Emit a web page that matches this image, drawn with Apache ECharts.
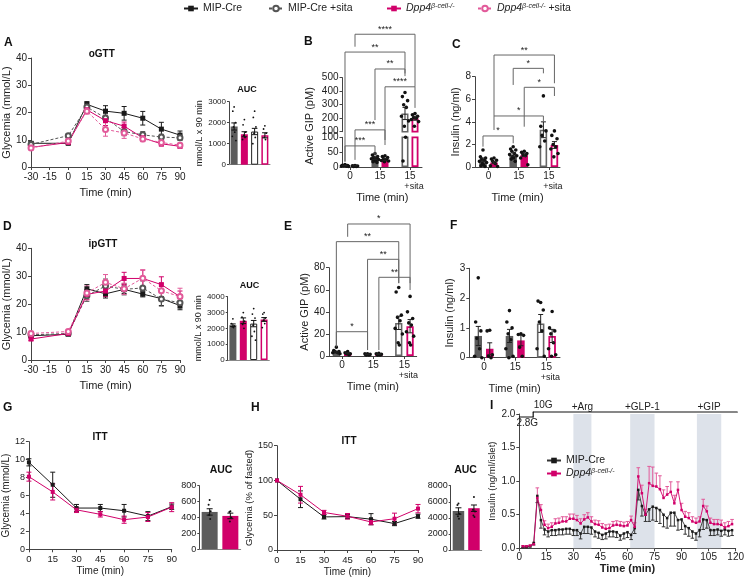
<!DOCTYPE html>
<html><head><meta charset="utf-8">
<script src="https://cdn.jsdelivr.net/npm/echarts@6.0.0/dist/echarts.min.js"></script>
<style>html,body{margin:0;padding:0;background:#fff;}#chart{width:747px;height:580px;}</style>
</head><body><div id="chart"></div>
<script>
// ================= DATA =================
const gttTimes = [-30, 0, 15, 30, 45, 60, 75, 90];
const ogttMip        = [8.7, 8.7, 23.0, 20.5, 19.7, 17.9, 13.9, 11.7];
const ogttMipErr     = [0.6, 0.5, 1.0, 2.0, 2.5, 2.5, 2.5, 1.5];
const ogttMipSita    = [8.3, 11.5, 22.0, 18.0, 13.0, 11.8, 11.0, 10.7];
const ogttMipSitaErr = [0.8, 0.8, 1.5, 1.5, 1.5, 1.2, 1.0, 1.0];
const ogttDpp        = [7.2, 9.0, 21.0, 17.0, 15.0, 10.7, 8.5, 7.6];
const ogttDppErr     = [0.6, 0.5, 1.2, 1.8, 1.5, 1.0, 0.8, 0.6];
const ogttDppSita    = [7.0, 9.5, 20.5, 13.8, 12.5, 10.3, 9.0, 8.0];
const ogttDppSitaErr = [0.6, 0.6, 1.0, 2.5, 2.0, 1.0, 1.0, 0.8];

const aucGroups = ['MIP-Cre', 'Dpp4', 'MIP-Cre +sita', 'Dpp4 +sita'];
const ogttAuc     = [1820, 1450, 1580, 1400];
const ogttAucErr  = [170, 120, 150, 120];
const ogttAucDots = [[2750, 2550, 2000, 1800, 1550, 1350, 1150],
                     [2150, 1900, 1550, 1400, 1300, 1200],
                     [2550, 2250, 1800, 1500, 1300, 1000],
                     [1850, 1700, 1500, 1300, 1200]];

const ipgttMip        = [8.7, 9.2, 25.5, 23.7, 25.3, 23.6, 22.0, 19.5];
const ipgttMipErr     = [0.8, 0.5, 1.5, 1.5, 1.5, 1.0, 2.5, 1.5];
const ipgttMipSita    = [9.0, 9.5, 23.0, 26.5, 25.3, 25.8, 21.8, 20.5];
const ipgttMipSitaErr = [0.8, 0.6, 2.0, 2.5, 2.0, 2.5, 2.5, 2.0];
const ipgttDpp        = [7.5, 9.5, 23.5, 24.7, 29.2, 29.2, 27.0, 22.7];
const ipgttDppErr     = [0.5, 0.6, 1.8, 2.0, 2.2, 3.0, 2.8, 2.0];
const ipgttDppSita    = [9.5, 10.2, 24.0, 27.8, 25.5, 29.3, 24.8, 22.7];
const ipgttDppSitaErr = [0.8, 0.8, 2.5, 2.8, 2.0, 3.0, 2.5, 3.0];
const ipgttAuc     = [2200, 2480, 2300, 2560];
const ipgttAucErr  = [80, 180, 200, 120];
const ipgttAucDots = [[2600, 2300, 2150, 2100, 2050],
                      [3000, 2700, 2450, 2250, 2000],
                      [3250, 2900, 2650, 2200, 1800, 1500, 1250],
                      [3000, 2900, 2650, 2500, 2300, 2050]];

const timeGroups = ['0', '15', '15 +sita'];
// B: active GIP after oGTT
const gipOMip     = [5, 30, 235];
const gipOMipErr  = [1, 4, 45];
const gipODpp     = [4, 25, 200];
const gipODppErr  = [0.5, 3, 15];
const gipOMipDots = [[8, 6, 5, 4, 3, 3, 2], [45, 40, 35, 32, 30, 28, 25, 22, 20, 18, 15], [390, 360, 330, 300, 280, 215, 180, 140, 100, 20]];
const gipODppDots = [[5, 4, 3, 2, 2], [38, 35, 32, 28, 25, 22, 20, 18], [235, 225, 215, 205, 200, 190, 175, 140]];
const gipOBrackets = [[0, 1, 2, 1, 447, 405, 270], [0, -1, 2, -1, 387, 18, 315], [1, -1, 2, -1, 330, 158, 306],
                      [1, 1, 2, 1, 270, 91, 199], [0, 1, 1, 1, 125, 24, 74], [0, -1, 1, -1, 71, 18, 40]];
const gipOBracketLabels = ['****', '**', '**', '****', '***', '***'];

// C: insulin after oGTT
const insOMip     = [0.65, 1.1, 3.3];
const insOMipErr  = [0.15, 0.15, 0.7];
const insODpp     = [0.4, 1.05, 1.95];
const insODppErr  = [0.1, 0.12, 0.3];
const insOMipDots = [[1.5, 0.9, 0.8, 0.7, 0.6, 0.5, 0.4, 0.3, 0.2, 0.1, 0.05], [1.8, 1.6, 1.5, 1.4, 1.2, 1.1, 1.0, 0.9, 0.8, 0.7, 0.5], [6.3, 3.6, 3.2, 2.8, 2.3, 1.8]];
const insODppDots = [[0.8, 0.7, 0.6, 0.5, 0.3, 0.1, 0.05], [1.4, 1.3, 1.2, 1.1, 1.0, 0.8, 0.2], [3.2, 2.8, 2.5, 2.0, 1.8, 1.6, 1.2, 0.9]];
const insOBrackets = [[0, 1, 2, 1, 9.92, 4.52, 7.42], [1, -1, 2, -1, 8.74, 7.27, 8.30], [1, 1, 2, 1, 7.06, 3.57, 6.29],
                      [0, 1, 2, -1, 4.52, 3.28, 4.01], [0, -1, 1, -1, 2.75, 1.80, 2.10]];
const insOBracketLabels = ['**', '*', '*', '*', '*'];

// E: active GIP after ipGTT
const gipIMip     = [3.5, 1.5, 30];
const gipIMipErr  = [0.8, 0.3, 6];
const gipIDpp     = [2.5, 1.8, 27];
const gipIDppErr  = [0.5, 0.3, 6];
const gipIMipDots = [[8, 5, 4, 4, 3, 3, 2], [2, 2, 1.5, 1, 1], [62, 58, 37, 35, 32, 25, 20, 12, 10]];
const gipIDppDots = [[4, 3, 2, 2, 1], [2.5, 2, 1.5, 1, 1], [54, 40, 34, 30, 28, 22, 18, 12, 10]];
const gipIBrackets = [[0, 1, 2, 1, 119.6, 108, 66], [0, -1, 2, -1, 103.6, 8.4, 66], [1, -1, 2, -1, 87.6, 5.4, 66],
                      [1, 1, 2, 1, 71.3, 5.4, 59.8], [0, -1, 1, -1, 22, 10, 5.4]];
const gipIBracketLabels = ['*', '**', '**', '**', '*'];

// F: insulin after ipGTT
const insIMip     = [0.73, 0.73, 1.15];
const insIMipErr  = [0.32, 0.22, 0.3];
const insIDpp     = [0.3, 0.58, 0.73];
const insIDppErr  = [0.2, 0.18, 0.22];
const insIMipDots = [[2.68, 1.2, 0.9, 0.65, 0.3, 0.05, 0.0], [1.58, 1.2, 1.0, 0.8, 0.6, 0.3, 0.05, 0.0], [1.85, 1.9, 1.6, 1.2, 0.9, 0.3, 0.05]];
const insIDppDots = [[0.92, 0.9, 0.1, 0.05, 0.0], [0.8, 0.78, 0.75, 0.35, 0.05], [1.55, 1.0, 0.9, 0.8, 0.5, 0.3, 0.1, 0.05]];

// G: ITT (mmol/L)
const ittTimes  = [0, 15, 30, 45, 60, 75, 90];
const ittMip    = [9.7, 7.2, 4.6, 4.6, 4.3, 3.7, 4.75];
const ittMipErr = [0.4, 1.4, 0.4, 0.4, 0.7, 0.5, 0.3];
const ittDpp    = [8.1, 6.4, 4.4, 3.9, 3.3, 3.6, 4.7];
const ittDppErr = [0.5, 0.9, 0.3, 0.3, 0.4, 0.5, 0.5];
const ittAucGroups = ['MIP-Cre', 'Dpp4'];
const ittAuc     = [470, 420];
const ittAucErr  = [40, 35];
const ittAucDots = [[620, 560, 480, 430, 380], [480, 470, 400, 350]];

// H: ITT (% of fasted)
const ittPctMip    = [100, 73, 47.6, 48, 44.3, 38, 48.6];
const ittPctMipErr = [0, 12, 3, 3, 8, 3, 3];
const ittPctDpp    = [100, 79.5, 54, 48.5, 40.3, 45, 59.5];
const ittPctDppErr = [0, 12, 3, 4, 4, 8, 6];
const ittPctAuc     = [4850, 5200];
const ittPctAucErr  = [400, 400];
const ittPctAucDots = [[5800, 5600, 4500, 4200, 3900], [6600, 5000, 4800, 4300, 4100]];

// I: perifusion
const periTimes = [2, 4, 6, 8, 10, 12, 14, 16, 18, 20,
                   22, 24, 26, 28, 30, 32, 34, 36, 38, 40,
                   42, 44, 46, 48, 50, 52, 54, 56, 58, 60,
                   62, 64, 66, 68, 70, 72, 74, 76, 78, 80,
                   82, 84, 86, 88, 90, 92, 94, 96, 98, 100,
                   102, 104, 106, 108, 110, 112, 114, 116, 118];
const periMip = [0.02, 0.02, 0.03, 0.08, 0.78, 0.42, 0.28, 0.25, 0.27, 0.27,
                 0.28, 0.28, 0.29, 0.29, 0.27, 0.27, 0.22, 0.32, 0.32, 0.31,
                 0.25, 0.23, 0.20, 0.22, 0.25, 0.25, 0.24, 0.19, 0.22, 0.24,
                 0.20, 0.30, 0.87, 0.63, 0.50, 0.58, 0.62, 0.60, 0.57, 0.50,
                 0.45, 0.53, 0.53, 0.42, 0.43, 0.33, 0.30, 0.25, 0.22, 0.27,
                 0.43, 0.42, 0.27, 0.27, 0.28, 0.26, 0.28, 0.26, 0.27];
const periMipErr = [0.01, 0.01, 0.01, 0.03, 0.10, 0.12, 0.08, 0.08, 0.08, 0.08,
                    0.08, 0.08, 0.08, 0.08, 0.08, 0.08, 0.08, 0.10, 0.10, 0.10,
                    0.08, 0.08, 0.07, 0.08, 0.08, 0.08, 0.08, 0.07, 0.08, 0.08,
                    0.07, 0.08, 0.15, 0.15, 0.10, 0.18, 0.20, 0.20, 0.20, 0.18,
                    0.15, 0.20, 0.20, 0.15, 0.15, 0.12, 0.12, 0.10, 0.10, 0.10,
                    0.15, 0.12, 0.08, 0.08, 0.08, 0.08, 0.08, 0.08, 0.08];
const periDpp = [0.03, 0.03, 0.04, 0.06, 0.75, 0.57, 0.35, 0.30, 0.32, 0.37,
                 0.38, 0.40, 0.40, 0.44, 0.44, 0.42, 0.37, 0.43, 0.46, 0.40,
                 0.36, 0.35, 0.31, 0.29, 0.30, 0.34, 0.35, 0.34, 0.33, 0.34,
                 0.42, 0.32, 1.07, 0.82, 0.50, 0.97, 0.93, 0.92, 0.88, 0.75,
                 0.80, 0.84, 0.67, 0.87, 0.57, 0.47, 0.45, 0.40, 0.38, 0.40,
                 0.63, 0.55, 0.38, 0.36, 0.36, 0.35, 0.31, 0.33, 0.36];
const periDppErr = [0.01, 0.01, 0.01, 0.02, 0.15, 0.08, 0.06, 0.06, 0.06, 0.07,
                    0.07, 0.07, 0.07, 0.07, 0.07, 0.07, 0.07, 0.07, 0.07, 0.07,
                    0.06, 0.06, 0.06, 0.06, 0.06, 0.06, 0.06, 0.06, 0.06, 0.06,
                    0.06, 0.06, 0.13, 0.12, 0.08, 0.25, 0.28, 0.20, 0.20, 0.12,
                    0.12, 0.15, 0.12, 0.12, 0.10, 0.08, 0.08, 0.07, 0.07, 0.07,
                    0.10, 0.08, 0.07, 0.07, 0.07, 0.07, 0.07, 0.07, 0.07];
const periPhases = [[30, 40, '+Arg'], [61.5, 75, '+GLP-1'], [98.5, 112, '+GIP']];
const protocolTimes  = [0, 7.7, 7.7, 121];
const protocolLevels = [1.955, 1.955, 2.03, 2.03];
const protocolLabels = ['2.8G', '', '10G', ''];

// ================= STYLE / HELPERS =================
const FONT = '"Liberation Sans", Arial, Helvetica, sans-serif';
const INK = '#222';
const AX = '#444';
const C_MIP = '#1a1a1a', C_MIPS = '#555555', C_DPP = '#d1006a', C_DPPS = '#e25a9a', C_GREY = '#5c5c5c';

const grids = [], xAxes = [], yAxes = [], series = [], graphics = [];

function merge(a, b) {
  const r = Object.assign({}, a);
  for (const k in b) {
    if (b[k] && typeof b[k] === 'object' && !Array.isArray(b[k]) && a[k] && typeof a[k] === 'object') r[k] = Object.assign({}, a[k], b[k]);
    else r[k] = b[k];
  }
  return r;
}
function addGrid(l, t, w, h) { grids.push({ left: l, top: t, width: w, height: h }); return grids.length - 1; }
function addX(g, o) { xAxes.push(Object.assign({ gridIndex: g }, o)); return xAxes.length - 1; }
function addY(g, o) { yAxes.push(Object.assign({ gridIndex: g }, o)); return yAxes.length - 1; }
function axisCommon(fs) {
  return {
    axisLine: { show: true, onZero: false, lineStyle: { color: AX, width: 1 } },
    axisTick: { show: true, length: 3, lineStyle: { color: AX, width: 1 } },
    axisLabel: { fontFamily: FONT, fontSize: fs, color: INK, margin: 4, formatter: v => String(v) },
    splitLine: { show: false },
    nameTextStyle: { fontFamily: FONT, color: INK }
  };
}
function valAxis(min, max, interval, fs, name, gap, nfs, extra) {
  return merge(merge(axisCommon(fs), { type: 'value', min, max, interval, name: name || '', nameLocation: 'middle', nameGap: gap || 0, nameTextStyle: { fontSize: nfs || 11 } }), extra || {});
}
const GROUP_RICH = { a: { fontFamily: FONT, fontSize: 10, color: INK, lineHeight: 11 }, b: { fontFamily: FONT, fontSize: 9, color: INK, lineHeight: 10, padding: [0, 0, 0, 8] } };
function groupLabel(v) {
  const i = Math.round(v);
  const parts = timeGroups[i].split(' ');
  return parts.length > 1 ? '{a|' + parts[0] + '}\n{b|' + parts[1] + '}' : '{a|' + parts[0] + '}';
}
function barXAxis(min, max, gap) {
  return merge(axisCommon(10), {
    type: 'value', min, max,
    axisTick: { customValues: [0, 1, 2], length: 3 },
    axisLabel: { customValues: [0, 1, 2], formatter: groupLabel, rich: GROUP_RICH, margin: 4 },
    name: 'Time (min)', nameLocation: 'middle', nameGap: gap, nameTextStyle: { fontSize: 11 }
  });
}
function lineSeries(name, xi, yi, xs, ys, color, symbol, size, dashed) {
  return {
    type: 'line', name, xAxisIndex: xi, yAxisIndex: yi, z: 3, silent: true,
    data: xs.map((x, i) => [x, ys[i]]), symbol, symbolSize: size, showAllSymbol: true,
    lineStyle: { color, width: 1, type: dashed ? [3, 2] : 'solid' },
    itemStyle: { color, borderColor: color, borderWidth: symbol === 'emptyCircle' ? 1 : 0 },
    emphasis: { disabled: true }
  };
}
function errSeries(xi, yi, xs, means, errs, color, dir, cap) {
  return {
    type: 'custom', xAxisIndex: xi, yAxisIndex: yi, silent: true, z: 2, clip: false,
    data: xs.map((x, i) => [x, means[i], errs[i]]),
    renderItem(p, api) {
      const x = api.value(0), m = api.value(1), e = api.value(2);
      if (!e) return null;
      const top = dir === 'down' ? m : m + e;
      const bot = dir === 'up' ? m : m - e;
      const pt = api.coord([x, top]), pb = api.coord([x, bot]);
      const st = { stroke: color, lineWidth: 1 };
      const ch = [{ type: 'line', shape: { x1: pt[0], y1: pt[1], x2: pb[0], y2: pb[1] }, style: st }];
      if (dir !== 'down') ch.push({ type: 'line', shape: { x1: pt[0] - cap, y1: pt[1], x2: pt[0] + cap, y2: pt[1] }, style: st });
      if (dir !== 'up') ch.push({ type: 'line', shape: { x1: pb[0] - cap, y1: pb[1], x2: pb[0] + cap, y2: pb[1] }, style: st });
      return { type: 'group', children: ch };
    }
  };
}
const JIT = [0, -2.6, 2.6, -1.3, 1.3, -3.6, 3.6, -0.6, 0.6, -2, 2, -3.1, 3.1];
function dotErrSeries(xi, yi, groups, means, errs, dots, off, o) {
  const lo = o.lo === undefined ? -Infinity : o.lo, hi = o.hi === undefined ? Infinity : o.hi;
  return {
    type: 'custom', xAxisIndex: xi, yAxisIndex: yi, silent: true, z: 5, clip: false,
    data: groups.map((g, i) => [g, means[i], errs[i]]),
    renderItem(p, api) {
      const i = p.dataIndex, g = api.value(0), m = api.value(1), e = api.value(2);
      const cx = api.coord([g, m])[0] + off;
      const ch = [];
      const inR = v => v >= lo && v <= hi;
      (dots[i] || []).forEach((v, k) => {
        if (!inR(v)) return;
        const y = api.coord([g, v])[1];
        ch.push({ type: 'circle', shape: { cx: cx + JIT[k % JIT.length] * o.jit, cy: y, r: o.r }, style: { fill: o.dotColor || '#111' } });
      });
      if (inR(m)) {
        const yt = api.coord([g, m + e])[1], yb = api.coord([g, m - e])[1];
        const st = { stroke: o.errColor || '#222', lineWidth: 1 };
        ch.push({ type: 'line', shape: { x1: cx, y1: yt, x2: cx, y2: yb }, style: st });
        ch.push({ type: 'line', shape: { x1: cx - o.cap, y1: yt, x2: cx + o.cap, y2: yt }, style: st });
        ch.push({ type: 'line', shape: { x1: cx - o.cap, y1: yb, x2: cx + o.cap, y2: yb }, style: st });
      }
      return { type: 'group', children: ch };
    }
  };
}
function bracketSeries(xi, yi, brackets, labels, off) {
  return {
    type: 'custom', xAxisIndex: xi, yAxisIndex: yi, silent: true, z: 6, clip: false,
    data: brackets,
    renderItem(p, api) {
      const v = [0, 1, 2, 3, 4, 5, 6].map(k => api.value(k));
      const x1 = api.coord([v[0], v[4]])[0] + v[1] * off;
      const x2 = api.coord([v[2], v[4]])[0] + v[3] * off;
      const yT = api.coord([v[0], v[4]])[1];
      const y1 = api.coord([v[0], v[5]])[1];
      const y2 = api.coord([v[2], v[6]])[1];
      return {
        type: 'group', children: [
          { type: 'polyline', shape: { points: [[x1, y1], [x1, yT], [x2, yT], [x2, y2]] }, style: { stroke: '#666', lineWidth: 1, fill: null } },
          { type: 'text', x: (x1 + x2) / 2, y: yT - 0.5, style: { text: labels[p.dataIndex], fontSize: 9, fontFamily: FONT, fill: INK, align: 'center', verticalAlign: 'bottom' } }
        ]
      };
    }
  };
}
const AUC4_STYLES = [{ color: C_GREY }, { color: C_DPP }, { color: '#fff', borderColor: '#222', borderWidth: 1 }, { color: '#fff', borderColor: C_DPP, borderWidth: 1.5 }];
function aucPanel(l, t, w, h, groups, vals, errs, dots, ymax, yint, fs, name, gap, bw, styles, dotR, jit) {
  const g = addGrid(l, t, w, h);
  const xi = addX(g, merge(axisCommon(fs), { type: 'category', data: groups, axisTick: { show: false }, axisLabel: { show: false }, axisLine: { show: true, onZero: false, lineStyle: { color: '#888' } } }));
  const yi = addY(g, valAxis(0, ymax, yint, fs, name, gap, 9, { axisTick: { length: 2 }, axisLabel: { margin: 3 } }));
  series.push({ type: 'bar', xAxisIndex: xi, yAxisIndex: yi, barWidth: bw, silent: true, z: 2, data: vals.map((v, i) => ({ value: v, itemStyle: styles[i] })) });
  series.push(dotErrSeries(xi, yi, groups.map((_, i) => i), vals, errs, dots, 0, { r: dotR, jit, cap: Math.min(3, bw / 2.5), dotColor: '#111', errColor: '#111' }));
}
function barSeries(xi, yi, vals, kind, bw, gap) {
  return {
    type: 'bar', xAxisIndex: xi, yAxisIndex: yi, barWidth: bw, barGap: (gap * 100) + '%', silent: true, z: 2,
    data: vals.map((v, i) => ({
      value: [i, v],
      itemStyle: i === 2 ? (kind === 'mip' ? { color: '#fff', borderColor: '#666', borderWidth: 1.6 } : { color: '#fff', borderColor: C_DPP, borderWidth: 1.8 })
                         : { color: kind === 'mip' ? C_GREY : C_DPP }
    }))
  };
}
function barPanel(c) {
  const g = addGrid(c.left, c.top, c.width, c.height);
  const xi = addX(g, barXAxis(c.xmin, c.xmax, c.nameGap));
  const yi = addY(g, valAxis(0, c.ymax, c.yint, 10, c.yname, c.ygap, 11));
  const off = c.bw * (1 + c.gap) / 2;
  series.push(barSeries(xi, yi, c.mip, 'mip', c.bw, c.gap));
  series.push(barSeries(xi, yi, c.dpp, 'dpp', c.bw, c.gap));
  const dOpt = { r: 1.8, jit: 1, cap: 2.5 };
  series.push(dotErrSeries(xi, yi, [0, 1, 2], c.mip, c.mipErr, c.mipDots, -off, dOpt));
  series.push(dotErrSeries(xi, yi, [0, 1, 2], c.dpp, c.dppErr, c.dppDots, off, dOpt));
  if (c.brackets) series.push(bracketSeries(xi, yi, c.brackets, c.bracketLabels, off));
}

// ================= A: oGTT =================
function gttPanel(l, t, w, h, sets, nameGapY) {
  const g = addGrid(l, t, w, h);
  const xi = addX(g, valAxis(-30, 90, 15, 10, 'Time (min)', 20, 11, { axisLabel: { margin: 5 } }));
  const yi = addY(g, valAxis(0, 40, 10, 10, 'Glycemia (mmol/L)', nameGapY, 11));
  sets.forEach(s => {
    series.push(lineSeries(s[0], xi, yi, gttTimes, s[1], s[3], s[4], s[5], s[6]));
    series.push(errSeries(xi, yi, gttTimes, s[1], s[2], s[3], 'both', 2.5));
  });
}
gttPanel(28, 58, 152, 109, [
  ['MIP-Cre', ogttMip, ogttMipErr, C_MIP, 'rect', 5, false],
  ['MIP-Cre +sita', ogttMipSita, ogttMipSitaErr, C_MIPS, 'emptyCircle', 5, true],
  ['Dpp4', ogttDpp, ogttDppErr, C_DPP, 'rect', 5, false],
  ['Dpp4 +sita', ogttDppSita, ogttDppSitaErr, C_DPPS, 'emptyCircle', 5, true]
], 13);
aucPanel(229, 101.7, 41, 63, aucGroups, ogttAuc, ogttAucErr, ogttAucDots, 3000, 1000, 8, 'mmol/L x 90 min', 24, 7, AUC4_STYLES, 0.9, 0.5);

// ================= B: active GIP (broken axis) =================
(function () {
  const bw = 7, gap = 0.43, off = bw * (1 + gap) / 2;
  const gh = addGrid(342.5, 77.7, 79.5, 54);
  const gl = addGrid(342.5, 137.3, 79.5, 29.7);
  const xh = addX(gh, { type: 'value', min: -0.25, max: 2.4, show: false });
  const yh = addY(gh, valAxis(100, 500, 100, 10));
  const xl = addX(gl, barXAxis(-0.25, 2.4, 22));
  const yl = addY(gl, valAxis(0, 100, 50, 10));
  [[xh, yh, 100.0001, Infinity], [xl, yl, -Infinity, 100]].forEach(([xi, yi, lo, hi]) => {
    series.push(barSeries(xi, yi, gipOMip, 'mip', bw, gap));
    series.push(barSeries(xi, yi, gipODpp, 'dpp', bw, gap));
    series.push(dotErrSeries(xi, yi, [0, 1, 2], gipOMip, gipOMipErr, gipOMipDots, -off, { r: 1.8, jit: 1, cap: 2.5, lo, hi }));
    series.push(dotErrSeries(xi, yi, [0, 1, 2], gipODpp, gipODppErr, gipODppDots, off, { r: 1.8, jit: 1, cap: 2.5, lo, hi }));
  });
  series.push(bracketSeries(xl, yl, gipOBrackets, gipOBracketLabels, off));
})();

// ================= C =================
barPanel({ left: 475, top: 76.7, width: 85, height: 90.3, xmin: -0.447, xmax: 2.367, nameGap: 21,
  ymax: 8, yint: 2, yname: 'Insulin (ng/ml)', ygap: 13, bw: 7.5, gap: 0.47,
  mip: insOMip, mipErr: insOMipErr, mipDots: insOMipDots, dpp: insODpp, dppErr: insODppErr, dppDots: insODppDots,
  brackets: insOBrackets, bracketLabels: insOBracketLabels });

// ================= D: ipGTT =================
gttPanel(27, 248.3, 153, 111.7, [
  ['MIP-Cre', ipgttMip, ipgttMipErr, C_MIP, 'rect', 5, false],
  ['MIP-Cre +sita', ipgttMipSita, ipgttMipSitaErr, C_MIPS, 'emptyCircle', 5, true],
  ['Dpp4', ipgttDpp, ipgttDppErr, C_DPP, 'rect', 5, false],
  ['Dpp4 +sita', ipgttDppSita, ipgttDppSitaErr, C_DPPS, 'emptyCircle', 5, true]
], 14);
aucPanel(227.7, 296.7, 41.6, 63.3, aucGroups, ipgttAuc, ipgttAucErr, ipgttAucDots, 4000, 1000, 8, 'mmol/L x 90 min', 20, 7, AUC4_STYLES, 0.9, 0.5);

// ================= E =================
barPanel({ left: 329, top: 267.7, width: 87.7, height: 88.3, xmin: -0.417, xmax: 2.394, nameGap: 21,
  ymax: 80, yint: 20, yname: 'Active GIP (pM)', ygap: 19, bw: 7.3, gap: 0.55,
  mip: gipIMip, mipErr: gipIMipErr, mipDots: gipIMipDots, dpp: gipIDpp, dppErr: gipIDppErr, dppDots: gipIDppDots,
  brackets: gipIBrackets, bracketLabels: gipIBracketLabels });

// ================= F =================
barPanel({ left: 469.3, top: 268.3, width: 90.7, height: 89.4, xmin: -0.471, xmax: 2.436, nameGap: 21,
  ymax: 3, yint: 1, yname: 'Insulin (ng/ml)', ygap: 12, bw: 7.5, gap: 0.53,
  mip: insIMip, mipErr: insIMipErr, mipDots: insIMipDots, dpp: insIDpp, dppErr: insIDppErr, dppDots: insIDppDots });

// ================= G: ITT =================
(function () {
  const g = addGrid(26.7, 441.7, 145, 107.6);
  const xi = addX(g, valAxis(0, 90, 15, 9.5, 'Time (min)', 17, 10, { axisLabel: { margin: 5 } }));
  const yi = addY(g, valAxis(0, 12, 2, 9, 'Glycemia (mmol/L)', 13, 10));
  series.push(lineSeries('MIP-Cre', xi, yi, ittTimes, ittMip, C_MIP, 'rect', 4, false));
  series.push(errSeries(xi, yi, ittTimes, ittMip, ittMipErr, C_MIP, 'both', 2.5));
  series.push(lineSeries('Dpp4', xi, yi, ittTimes, ittDpp, C_DPP, 'rect', 4, false));
  series.push(errSeries(xi, yi, ittTimes, ittDpp, ittDppErr, C_DPP, 'both', 2.5));
})();
aucPanel(199.3, 485.7, 41.4, 63.6, ittAucGroups, ittAuc, ittAucErr, ittAucDots, 800, 200, 9, '', 0, 16, [{ color: C_GREY }, { color: C_DPP }], 1, 0.4);

// ================= H: ITT % =================
(function () {
  const g = addGrid(277, 445.7, 141, 104.3);
  const xi = addX(g, valAxis(0, 90, 15, 9.5, 'Time (min)', 17, 10, { axisLabel: { margin: 5 } }));
  const yi = addY(g, valAxis(0, 150, 50, 9, 'Glycemia (% of fasted)', 20, 9.5));
  series.push(lineSeries('MIP-Cre', xi, yi, ittTimes, ittPctMip, C_MIP, 'rect', 4, false));
  series.push(errSeries(xi, yi, ittTimes, ittPctMip, ittPctMipErr, C_MIP, 'both', 2.5));
  series.push(lineSeries('Dpp4', xi, yi, ittTimes, ittPctDpp, C_DPP, 'rect', 4, false));
  series.push(errSeries(xi, yi, ittTimes, ittPctDpp, ittPctDppErr, C_DPP, 'both', 2.5));
})();
aucPanel(450.7, 485.7, 31, 64.3, ittAucGroups, ittPctAuc, ittPctAucErr, ittPctAucDots, 8000, 2000, 9, '', 0, 11.5, [{ color: C_GREY }, { color: C_DPP }], 1, 0.4);

// ================= I: perifusion =================
(function () {
  const g = addGrid(519.3, 414, 217.4, 134.3);
  const xi = addX(g, valAxis(0, 120, 15, 10, 'Time (min)', 13, 11, { nameTextStyle: { fontWeight: 'bold' }, axisLabel: { margin: 4 } }));
  const yi = addY(g, valAxis(0, 2, 0.5, 10, 'Insulin (ng/ml/islet)', 21, 9.5, { axisLabel: { formatter: v => v.toFixed(1) } }));
  series.push({
    type: 'line', xAxisIndex: xi, yAxisIndex: yi, z: 1, clip: false, silent: true,
    symbol: 'circle', symbolSize: 1, showAllSymbol: true, itemStyle: { color: '#111' },
    lineStyle: { color: '#111', width: 1.2 },
    data: protocolTimes.map((t, i) => ({
      value: [t, protocolLevels[i]],
      label: protocolLabels[i] ? { show: true, formatter: protocolLabels[i], position: i === 0 ? 'bottom' : 'top', distance: 1, offset: i === 0 ? [8, 0] : [10, 0], fontFamily: FONT, fontSize: 10, color: INK } : { show: false }
    })),
    markArea: {
      silent: true, itemStyle: { color: '#dde2ea' },
      label: { show: true, position: 'top', distance: 2, fontFamily: FONT, fontSize: 10, color: INK },
      data: periPhases.map(p => [{ xAxis: p[0], name: p[2] }, { xAxis: p[1] }])
    }
  });
  series.push(errSeries(xi, yi, periTimes, periMip, periMipErr, '#333', 'down', 1.8));
  series.push(errSeries(xi, yi, periTimes, periDpp, periDppErr, C_DPPS, 'up', 1.8));
  series.push(Object.assign(lineSeries('I-MIP', xi, yi, periTimes, periMip, C_MIP, 'rect', 2.5, false), { lineStyle: { color: '#333', width: 0.9 } }));
  series.push(Object.assign(lineSeries('I-Dpp4', xi, yi, periTimes, periDpp, C_DPP, 'rect', 2.5, false), { lineStyle: { color: C_DPP, width: 0.9 } }));
})();

// ================= TEXT =================
function txt(t, x, y, fs, bold, align) {
  graphics.push({ type: 'text', x, y, silent: true, style: { text: t, fontFamily: FONT, fontSize: fs, fontWeight: bold ? 'bold' : 'normal', fill: '#111', align: align || 'center', verticalAlign: 'middle' } });
}
[['A', 4, 42.5], ['B', 304, 42], ['C', 452, 45], ['D', 3, 227], ['E', 284, 227], ['F', 450, 226], ['G', 3, 408], ['H', 251, 408], ['I', 490, 406]]
  .forEach(l => txt(l[0], l[1], l[2], 12, true, 'left'));
txt('oGTT', 101.7, 54.5, 10, true); txt('AUC', 247, 90, 9, true);
txt('ipGTT', 103, 244.5, 10, true); txt('AUC', 249.5, 285.5, 9, true);
txt('ITT', 100, 437, 10, true); txt('AUC', 221, 470, 10.5, true);
txt('ITT', 349, 441, 10, true); txt('AUC', 465.5, 470, 10.5, true);
graphics.push({ type: 'text', x: 310, y: 126, rotation: Math.PI / 2, silent: true, style: { text: 'Active GIP (pM)', fontFamily: FONT, fontSize: 11, fill: INK, align: 'center', verticalAlign: 'middle' } });

// ================= LEGENDS =================
const LEGRICH = {
  i: { fontStyle: 'italic', fontFamily: FONT, fontSize: 10.5, color: INK },
  s: { fontStyle: 'italic', fontFamily: FONT, fontSize: 7, color: INK, verticalAlign: 'top' },
  n: { fontFamily: FONT, fontSize: 10.5, color: INK }
};
const LEGTXT = { 'MIP-Cre': 'MIP-Cre', 'MIP-Cre +sita': 'MIP-Cre +sita', 'Dpp4': '{i|Dpp4}{s|β-cell-/-}', 'Dpp4 +sita': '{i|Dpp4}{s|β-cell-/-}{n| +sita}', 'I-MIP': 'MIP-Cre', 'I-Dpp4': '{i|Dpp4}{s|β-cell-/-}' };
const legends = [
  { data: ['MIP-Cre'], left: 183, top: 3 },
  { data: ['MIP-Cre +sita'], left: 268, top: 3 },
  { data: ['Dpp4'], left: 386, top: 3 },
  { data: ['Dpp4 +sita'], left: 477, top: 3 },
  { data: ['I-MIP', 'I-Dpp4'], left: 546, top: 455, orient: 'vertical', itemGap: 2 }
].map(l => Object.assign({ itemWidth: 14, itemHeight: 7, itemGap: 5, selectedMode: false, padding: 0, formatter: n => LEGTXT[n], textStyle: { fontFamily: FONT, fontSize: 10.5, color: INK, rich: LEGRICH } }, l));

const chart = echarts.init(document.getElementById('chart'), null, { renderer: 'canvas' });
chart.setOption({ animation: false, textStyle: { fontFamily: FONT }, grid: grids, xAxis: xAxes, yAxis: yAxes, series, legend: legends, graphic: graphics });
</script></body></html>
